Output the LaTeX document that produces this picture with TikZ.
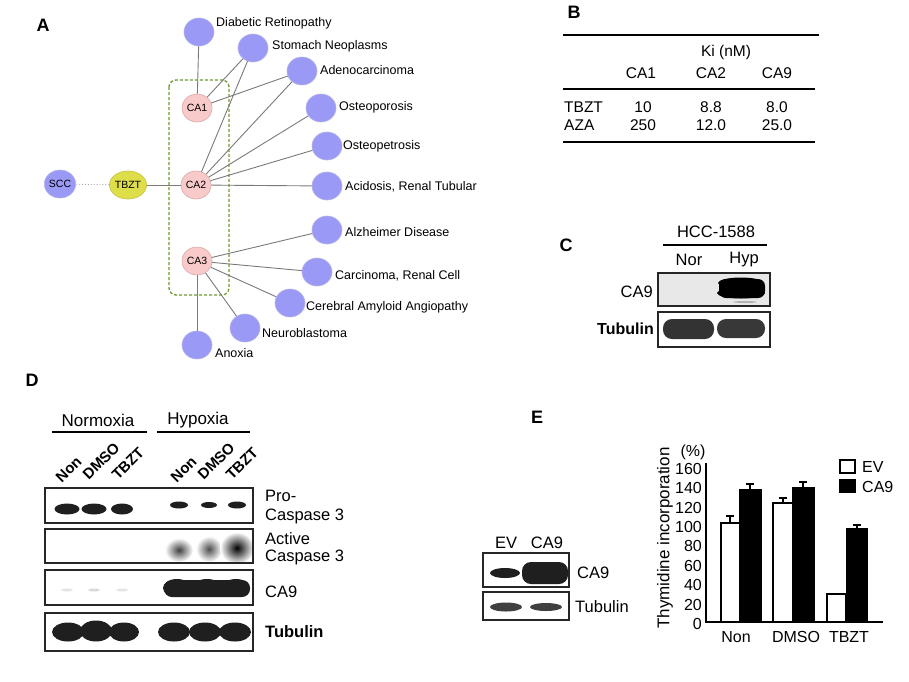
\documentclass[tikz,border=0pt]{standalone}
\usepackage{fontspec}
\setmainfont{Liberation Sans}
\usetikzlibrary{shapes.geometric}
\definecolor{nodeblue}{HTML}{9A9AF6}
\definecolor{nodeblueb}{HTML}{B4B4E8}
\definecolor{capink}{HTML}{F9CACA}
\definecolor{capinkb}{HTML}{D9AAAA}
\definecolor{tbzty}{HTML}{DEDE4A}
\definecolor{tbztyb}{HTML}{C4C440}
\definecolor{edgegray}{HTML}{7A7A7A}
\definecolor{boxgreen}{HTML}{6F9A30}
\newcommand\setfs[1]{\fontsize{#1}{#1}\selectfont}
\begin{document}
\begin{tikzpicture}[x=1pt,y=-1pt,
  dis/.style={ellipse, fill=nodeblue, draw=nodeblueb, line width=0.6, minimum width=30, minimum height=28, inner sep=0},
  ca/.style={ellipse, fill=capink, draw=capinkb, line width=0.6, minimum width=30, minimum height=28, inner sep=0, font=\setfs{10.5}},
  lbl/.style={anchor=west, inner sep=0, font=\setfs{12.5}},
  edge/.style={draw=edgegray, line width=0.9},
  letter/.style={inner sep=0, font=\bfseries\setfs{18}},
  tb/.style={inner sep=0, font=\setfs{15.5}},
  tline/.style={line width=2.6},
  blot/.style={draw=black!85, line width=2},
  band/.style={fill=black!88},
  bl/.style={inner sep=0, font=\setfs{16.5}},
  rot/.style={inner sep=0, anchor=south west, rotate=45, font=\bfseries\setfs{15}},
  bar/.style={draw=black, line width=2.4},
  ax/.style={line width=2.8},
  err/.style={line width=2.2},
  ct/.style={inner sep=0, font=\setfs{16}}
]
\useasboundingbox (0,0) rectangle (909,681);
\fill[white] (0,0) rectangle (909,681);

% ---------------- Panel A ----------------
\node[letter] (la) at (43,25) {A};
\draw[boxgreen, line width=1.3, dash pattern=on 3pt off 2pt, rounded corners=7] (169,80) rectangle (229,295);

\node[dis] (dr) at (199,32) {};
\node[dis] (sn) at (253,48) {};
\node[dis] (ad) at (302,71) {};
\node[dis] (op) at (321,108) {};
\node[dis] (ope) at (327,146) {};
\node[dis] (ac) at (327,186) {};
\node[dis] (al) at (327,230) {};
\node[dis] (cr) at (317,272) {};
\node[dis] (cb) at (290,303) {};
\node[dis] (nb) at (245,328) {};
\node[dis] (an) at (197,345) {};
\node[ca] (ca1) at (197,108) {CA1};
\node[ca] (ca2) at (196,185) {CA2};
\node[ca] (ca3) at (197,261) {CA3};
\node[ellipse, fill=tbzty, draw=tbztyb, line width=0.6, minimum width=31, minimum height=28, inner sep=0, font=\setfs{10.5}] (tbzt) at (128,185) {TBZT};
\node[dis, font=\setfs{10.5}] (scc) at (60,184) {SCC};

\node[lbl] (ldr) at (216,23) {Diabetic Retinopathy};
\node[lbl] (lsn) at (272,46) {Stomach Neoplasms};
\node[lbl] (lad) at (320,70) {Adenocarcinoma};
\node[lbl] (lop) at (339,107) {Osteoporosis};
\node[lbl] (lope) at (343,146) {Osteopetrosis};
\node[lbl] (lac) at (345,187) {Acidosis, Renal Tubular};
\node[lbl] (lal) at (345,232) {Alzheimer Disease};
\node[lbl] (lcr) at (335,276) {Carcinoma, Renal Cell};
\node[lbl] (lcb) at (306,307) {Cerebral Amyloid Angiopathy};
\node[lbl] (lnb) at (262,333) {Neuroblastoma};
\node[lbl] (lan) at (215,353) {Anoxia};

\draw[edge] (ca1) -- (dr);
\draw[edge] (ca1) -- (sn);
\draw[edge] (ca1) -- (ad);
\draw[edge] (ca2) -- (sn);
\draw[edge] (ca2) -- (ad);
\draw[edge] (ca2) -- (op);
\draw[edge] (ca2) -- (ope);
\draw[edge] (ca2) -- (ac);
\draw[edge] (ca2) -- (tbzt);
\draw[edgegray!70, line width=0.9, dotted] (tbzt) -- (scc);
\draw[edge] (ca3) -- (al);
\draw[edge] (ca3) -- (cr);
\draw[edge] (ca3) -- (cb);
\draw[edge] (ca3) -- (nb);
\draw[edge] (ca3) -- (an);

% ---------------- Panel B ----------------
\node[letter] (lb) at (574,12) {B};
\draw[tline] (563,35) -- (819,35);
\draw[tline] (563,89) -- (815,89);
\draw[tline] (563,142) -- (815,142);
\node[tb] (ki) at (726,52) {Ki (nM)};
\node[tb] (h1) at (641,73) {CA1};
\node[tb] (h2) at (711,73) {CA2};
\node[tb] (h3) at (777,73) {CA9};
\node[tb, anchor=west] (r1) at (564,107) {TBZT};
\node[tb, anchor=west] (r2) at (564,125) {AZA};
\node[tb] (v11) at (643,107) {10};
\node[tb] (v12) at (711,107) {8.8};
\node[tb] (v13) at (777,107) {8.0};
\node[tb] (v21) at (643,125) {250};
\node[tb] (v22) at (711,125) {12.0};
\node[tb] (v23) at (777,125) {25.0};

% ---------------- Panel C ----------------
\node[letter] (lc) at (566,245) {C};
\node[bl] (hcc) at (716,232) {HCC-1588};
\draw[tline] (663,245) -- (767,245);
\node[bl] (nor) at (689,260) {Nor};
\node[bl] (hyp) at (744,260) {Hyp};
\fill[gray!18] (658,273) rectangle (770,306);
\fill[black, rounded corners=7] (719,279) rectangle (765,298);
\fill[black] (741,283) ellipse (23 and 5.5);
\fill[black] (741,293) ellipse (24 and 5.5);
\fill[black!30] (745,302) ellipse (12 and 1);
\draw[blot] (658,273) rectangle (770,306);
\fill[black!80, rounded corners=9] (663,319) rectangle (714,339);
\fill[black!78, rounded corners=9] (717,319) rectangle (765,338);
\draw[blot] (658,312) rectangle (770,347);
\node[bl, anchor=east] (cca9) at (653,292) {CA9};
\node[bl, anchor=east, font=\bfseries\setfs{16}] (ctub) at (654,329) {Tubulin};

% ---------------- Panel D ----------------
\node[letter] (ld) at (32,380) {D};
\node[inner sep=0, font=\setfs{17}] (norm) at (98,420) {Normoxia};
\node[inner sep=0, font=\setfs{17}] (hypo) at (198,420) {Hypoxia};
\draw[tline] (52,432) -- (147,432);
\draw[tline] (157,432) -- (250,432);
\node[rot] (dn1) at (62,484) {Non};
\node[rot] (dd1) at (89,481) {DMSO};
\node[rot] (dt1) at (118,481) {TBZT};
\node[rot] (dn2) at (177,484) {Non};
\node[rot] (dd2) at (204,481) {DMSO};
\node[rot] (dt2) at (232,481) {TBZT};
% blot 1
\fill[band] (67,509) ellipse (12.5 and 5.5);
\fill[band] (94,509) ellipse (12.5 and 5.5);
\fill[band] (122,509) ellipse (11 and 5.5);
\fill[band] (179,505) ellipse (9 and 3.5);
\fill[band] (209,505) ellipse (8 and 3);
\fill[band] (237,505) ellipse (9 and 3.5);
\draw[blot] (45,488) rectangle (253,523);
% blot 2
\shade[inner color=black!75, outer color=white] (179,550) ellipse (14 and 12);
\shade[inner color=black!70, outer color=white] (209,549) ellipse (13 and 13);
\shade[inner color=black, outer color=white] (237,548) ellipse (17 and 16);
\draw[blot] (45,529) rectangle (253,563);
% blot 3
\fill[black!10] (67,590) ellipse (6 and 1.5);
\fill[black!15] (94,590) ellipse (6 and 1.5);
\fill[black!10] (122,590) ellipse (6 and 1.5);
\fill[band, rounded corners=8] (164,580) rectangle (250,597);
\fill[band] (177,588) ellipse (14 and 9);
\fill[band] (207,588) ellipse (15 and 9);
\fill[band] (236,588) ellipse (14 and 9);
\draw[blot] (45,570) rectangle (253,605);
% blot 4
\fill[band] (68,632) ellipse (16 and 9.5);
\fill[band] (96,631) ellipse (16 and 10.5);
\fill[band] (124,632) ellipse (15 and 9.5);
\fill[band] (174,632) ellipse (16 and 9.5);
\fill[band] (205,632) ellipse (16 and 9.5);
\fill[band] (235,632) ellipse (16 and 9.5);
\draw[blot] (45,613) rectangle (253,651);
\node[bl, anchor=west] (dp1) at (265,496) {Pro-};
\node[bl, anchor=west] (dp2) at (265,516) {Caspase 3};
\node[bl, anchor=west] (da1) at (265,539) {Active};
\node[bl, anchor=west] (da2) at (265,557) {Caspase 3};
\node[bl, anchor=west] (dca9) at (265,592) {CA9};
\node[bl, anchor=west, font=\bfseries\setfs{16.5}] (dtub) at (265,632) {Tubulin};

% ---------------- Panel E ----------------
\node[letter] (le) at (537,417) {E};
\node[bl] (eev) at (506,543) {EV};
\node[bl] (eca) at (547,543) {CA9};
\fill[band] (505,573) ellipse (15 and 5);
\fill[band, rounded corners=9] (522,562) rectangle (568,584);
\draw[blot] (483,553) rectangle (569,587);
\fill[black!75] (506,607) ellipse (16 and 4.5);
\fill[black!75] (546,607) ellipse (16 and 4);
\draw[blot] (483,592) rectangle (569,620);
\node[bl, anchor=west] (eca9) at (577,573) {CA9};
\node[bl, anchor=west] (etub) at (575,607) {Tubulin};

% chart
\draw[ax] (706,463) -- (706,622) -- (883,622);
\foreach \v in {0,20,...,160} {
  \node[ct, anchor=east] at (702,{622-0.97*\v+2}) {\v};
}
\node[ct] (pct) at (693,452) {(\%)};
\node[inner sep=0, font=\setfs{17}, rotate=90] (ylab) at (665,538) {Thymidine incorporation};
% bars
\draw[err] (730,523) -- (730,516) (726,516) -- (734,516);
\draw[bar, fill=white] (721,622) rectangle (740,523);
\draw[err] (750,490) -- (750,484) (746,484) -- (754,484);
\draw[bar, fill=black] (740,622) rectangle (761,490);
\draw[err] (783,503) -- (783,498) (779,498) -- (787,498);
\draw[bar, fill=white] (773,622) rectangle (793,503);
\draw[err] (803,488) -- (803,482) (799,482) -- (807,482);
\draw[bar, fill=black] (793,622) rectangle (814,488);
\draw[bar, fill=white] (827,622) rectangle (846,594);
\draw[err] (857,529) -- (857,525) (853,525) -- (861,525);
\draw[bar, fill=black] (847,622) rectangle (867,529);
\node[ct] (xn) at (736,637) {Non};
\node[ct] (xd) at (796,637) {DMSO};
\node[ct] (xt) at (849,637) {TBZT};
% legend
\draw[bar, fill=white] (840,460) rectangle (855,473);
\draw[bar, fill=black] (840,480) rectangle (855,492);
\node[ct, anchor=west] (lev) at (862,467) {EV};
\node[ct, anchor=west] (lca) at (862,487) {CA9};
\end{tikzpicture}
\end{document}
